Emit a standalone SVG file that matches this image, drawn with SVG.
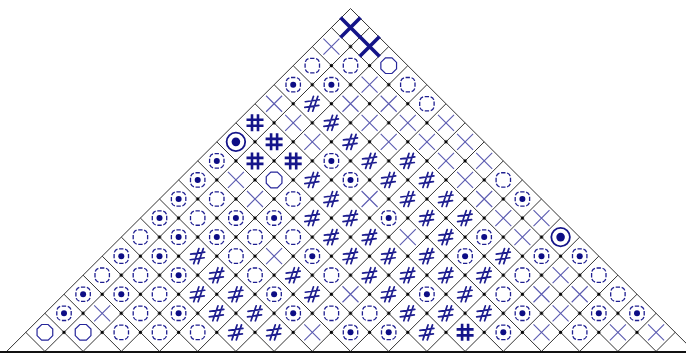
<svg xmlns="http://www.w3.org/2000/svg" xmlns:xlink="http://www.w3.org/1999/xlink" width="686" height="355" viewBox="0 0 686 355">
<style>
.g{stroke:#333;stroke-width:1;fill:none}
.tx{stroke:#5a5ab0;stroke-width:1.1;fill:none}
.bx{stroke:#141488;stroke-width:3.6;fill:none}
.dc{stroke:#1e1e90;stroke-width:1.3;fill:none;stroke-dasharray:4.3 1.7}
.oc{stroke:#26269a;stroke-width:1.2;fill:none}
.dot{fill:#0d0d85}
.h{stroke:#1e1e90;stroke-width:1.7;fill:none;stroke-linecap:round}
.bh{stroke:#15158a;stroke-width:2.6;fill:none}
.bo{stroke:#15158a;stroke-width:1.8;fill:none}
.v{fill:#000}
</style>
<defs>
<path id="X" class="tx" d="M-8,-8L8,8M8,-8L-8,8"/>
<path id="BX" class="bx" d="M-10,-10L10,10M10,-10L-10,10"/>
<rect id="C" class="dc" x="-7.2" y="-7.2" width="14.4" height="14.4" rx="5" pathLength="48"/>
<polygon id="O" class="oc" points="7.85,3.25 3.25,7.85 -3.25,7.85 -7.85,3.25 -7.85,-3.25 -3.25,-7.85 3.25,-7.85 7.85,-3.25"/>
<g id="D"><use xlink:href="#C" href="#C"/><circle class="dot" r="3"/></g>
<g id="BO"><circle class="bo" r="9.3"/><circle class="dot" r="4.3"/></g>
<path id="H" class="h" d="M-7,-2L7,-4M-7.5,3.6L6.5,1.6M1.2,-7.5L-4,7.5M5.6,-7.5L0.4,7.5"/>
<path id="BH" class="bh" d="M-8.5,-3L8.5,-3M-8.5,3L8.5,3M-3,-8.5L-3,8.5M3,-8.5L3,8.5"/>
<pattern id="vp" patternUnits="userSpaceOnUse" x="350.5" y="8.5" width="38.2" height="38.1">
<circle class="v" cx="0" cy="0" r="1.6"/><circle class="v" cx="38.2" cy="0" r="1.6"/>
<circle class="v" cx="0" cy="38.1" r="1.6"/><circle class="v" cx="38.2" cy="38.1" r="1.6"/>
<circle class="v" cx="19.1" cy="19.05" r="1.6"/>
</pattern>
</defs>
<rect width="686" height="355" fill="#fff"/>
<g id="grid" class="g">
<path d="M350.5,8.5L6.7,351.4M369.6,27.55L44.9,351.4M388.7,46.6L83.1,351.4M407.8,65.65L121.3,351.4M426.9,84.7L159.5,351.4M446,103.75L197.7,351.4M465.1,122.8L235.9,351.4M484.2,141.85L274.1,351.4M503.3,160.9L312.3,351.4M522.4,179.95L350.5,351.4M541.5,199L388.7,351.4M560.6,218.05L426.9,351.4M579.7,237.1L465.1,351.4M598.8,256.15L503.3,351.4M617.9,275.2L541.5,351.4M637,294.25L579.7,351.4M656.1,313.3L617.9,351.4M675.2,332.35L656.1,351.4"/>
<path d="M350.5,8.5L694.3,351.4M331.4,27.55L656.1,351.4M312.3,46.6L617.9,351.4M293.2,65.65L579.7,351.4M274.1,84.7L541.5,351.4M255,103.75L503.3,351.4M235.9,122.8L465.1,351.4M216.8,141.85L426.9,351.4M197.7,160.9L388.7,351.4M178.6,179.95L350.5,351.4M159.5,199L312.3,351.4M140.4,218.05L274.1,351.4M121.3,237.1L235.9,351.4M102.2,256.15L197.7,351.4M83.1,275.2L159.5,351.4M64,294.25L121.3,351.4M44.9,313.3L83.1,351.4M25.8,332.35L44.9,351.4"/>
</g>
<polygon id="vertices" points="350.5,15 17,347 684,347" fill="url(#vp)"/>
<rect id="base" x="0" y="351" width="686" height="2" fill="#111"/>
<g id="marks">
<g id="r0"><use href="#BX" x="350.5" y="27.55"/></g>
<g id="r1"><use href="#X" x="331.4" y="46.6"/><use href="#BX" x="369.6" y="46.6"/></g>
<g id="r2"><use href="#C" x="312.3" y="65.65"/><use href="#C" x="350.5" y="65.65"/><use href="#O" x="388.7" y="65.65"/></g>
<g id="r3"><use href="#D" x="293.2" y="84.7"/><use href="#D" x="331.4" y="84.7"/><use href="#X" x="369.6" y="84.7"/><use href="#C" x="407.8" y="84.7"/></g>
<g id="r4"><use href="#X" x="274.1" y="103.75"/><use href="#H" x="312.3" y="103.75"/><use href="#X" x="350.5" y="103.75"/><use href="#X" x="388.7" y="103.75"/><use href="#C" x="426.9" y="103.75"/></g>
<g id="r5"><use href="#BH" x="255" y="122.8"/><use href="#X" x="293.2" y="122.8"/><use href="#H" x="331.4" y="122.8"/><use href="#X" x="369.6" y="122.8"/><use href="#X" x="407.8" y="122.8"/><use href="#X" x="446" y="122.8"/></g>
<g id="r6"><use href="#BO" x="235.9" y="141.85"/><use href="#BH" x="274.1" y="141.85"/><use href="#X" x="312.3" y="141.85"/><use href="#H" x="350.5" y="141.85"/><use href="#X" x="388.7" y="141.85"/><use href="#X" x="426.9" y="141.85"/><use href="#X" x="465.1" y="141.85"/></g>
<g id="r7"><use href="#D" x="216.8" y="160.9"/><use href="#BH" x="255" y="160.9"/><use href="#BH" x="293.2" y="160.9"/><use href="#D" x="331.4" y="160.9"/><use href="#H" x="369.6" y="160.9"/><use href="#H" x="407.8" y="160.9"/><use href="#X" x="446" y="160.9"/><use href="#X" x="484.2" y="160.9"/></g>
<g id="r8"><use href="#D" x="197.7" y="179.95"/><use href="#X" x="235.9" y="179.95"/><use href="#O" x="274.1" y="179.95"/><use href="#H" x="312.3" y="179.95"/><use href="#D" x="350.5" y="179.95"/><use href="#H" x="388.7" y="179.95"/><use href="#H" x="426.9" y="179.95"/><use href="#X" x="465.1" y="179.95"/><use href="#C" x="503.3" y="179.95"/></g>
<g id="r9"><use href="#D" x="178.6" y="199"/><use href="#C" x="216.8" y="199"/><use href="#X" x="255" y="199"/><use href="#C" x="293.2" y="199"/><use href="#H" x="331.4" y="199"/><use href="#X" x="369.6" y="199"/><use href="#H" x="407.8" y="199"/><use href="#H" x="446" y="199"/><use href="#X" x="484.2" y="199"/><use href="#D" x="522.4" y="199"/></g>
<g id="r10"><use href="#D" x="159.5" y="218.05"/><use href="#C" x="197.7" y="218.05"/><use href="#D" x="235.9" y="218.05"/><use href="#D" x="274.1" y="218.05"/><use href="#H" x="312.3" y="218.05"/><use href="#H" x="350.5" y="218.05"/><use href="#D" x="388.7" y="218.05"/><use href="#H" x="426.9" y="218.05"/><use href="#H" x="465.1" y="218.05"/><use href="#X" x="503.3" y="218.05"/><use href="#X" x="541.5" y="218.05"/></g>
<g id="r11"><use href="#C" x="140.4" y="237.1"/><use href="#D" x="178.6" y="237.1"/><use href="#D" x="216.8" y="237.1"/><use href="#C" x="255" y="237.1"/><use href="#C" x="293.2" y="237.1"/><use href="#H" x="331.4" y="237.1"/><use href="#H" x="369.6" y="237.1"/><use href="#X" x="407.8" y="237.1"/><use href="#H" x="446" y="237.1"/><use href="#D" x="484.2" y="237.1"/><use href="#X" x="522.4" y="237.1"/><use href="#BO" x="560.6" y="237.1"/></g>
<g id="r12"><use href="#D" x="121.3" y="256.15"/><use href="#D" x="159.5" y="256.15"/><use href="#H" x="197.7" y="256.15"/><use href="#C" x="235.9" y="256.15"/><use href="#X" x="274.1" y="256.15"/><use href="#D" x="312.3" y="256.15"/><use href="#H" x="350.5" y="256.15"/><use href="#H" x="388.7" y="256.15"/><use href="#H" x="426.9" y="256.15"/><use href="#D" x="465.1" y="256.15"/><use href="#H" x="503.3" y="256.15"/><use href="#D" x="541.5" y="256.15"/><use href="#D" x="579.7" y="256.15"/></g>
<g id="r13"><use href="#C" x="102.2" y="275.2"/><use href="#C" x="140.4" y="275.2"/><use href="#D" x="178.6" y="275.2"/><use href="#H" x="216.8" y="275.2"/><use href="#C" x="255" y="275.2"/><use href="#H" x="293.2" y="275.2"/><use href="#C" x="331.4" y="275.2"/><use href="#H" x="369.6" y="275.2"/><use href="#H" x="407.8" y="275.2"/><use href="#H" x="446" y="275.2"/><use href="#H" x="484.2" y="275.2"/><use href="#C" x="522.4" y="275.2"/><use href="#X" x="560.6" y="275.2"/><use href="#C" x="598.8" y="275.2"/></g>
<g id="r14"><use href="#D" x="83.1" y="294.25"/><use href="#D" x="121.3" y="294.25"/><use href="#C" x="159.5" y="294.25"/><use href="#H" x="197.7" y="294.25"/><use href="#H" x="235.9" y="294.25"/><use href="#D" x="274.1" y="294.25"/><use href="#H" x="312.3" y="294.25"/><use href="#X" x="350.5" y="294.25"/><use href="#H" x="388.7" y="294.25"/><use href="#D" x="426.9" y="294.25"/><use href="#H" x="465.1" y="294.25"/><use href="#C" x="503.3" y="294.25"/><use href="#X" x="541.5" y="294.25"/><use href="#X" x="579.7" y="294.25"/><use href="#C" x="617.9" y="294.25"/></g>
<g id="r15"><use href="#D" x="64" y="313.3"/><use href="#X" x="102.2" y="313.3"/><use href="#C" x="140.4" y="313.3"/><use href="#D" x="178.6" y="313.3"/><use href="#H" x="216.8" y="313.3"/><use href="#H" x="255" y="313.3"/><use href="#D" x="293.2" y="313.3"/><use href="#C" x="331.4" y="313.3"/><use href="#C" x="369.6" y="313.3"/><use href="#H" x="407.8" y="313.3"/><use href="#H" x="446" y="313.3"/><use href="#H" x="484.2" y="313.3"/><use href="#D" x="522.4" y="313.3"/><use href="#X" x="560.6" y="313.3"/><use href="#D" x="598.8" y="313.3"/><use href="#D" x="637" y="313.3"/></g>
<g id="r16"><use href="#O" x="44.9" y="332.35"/><use href="#O" x="83.1" y="332.35"/><use href="#C" x="121.3" y="332.35"/><use href="#C" x="159.5" y="332.35"/><use href="#C" x="197.7" y="332.35"/><use href="#H" x="235.9" y="332.35"/><use href="#H" x="274.1" y="332.35"/><use href="#X" x="312.3" y="332.35"/><use href="#D" x="350.5" y="332.35"/><use href="#D" x="388.7" y="332.35"/><use href="#H" x="426.9" y="332.35"/><use href="#BH" x="465.1" y="332.35"/><use href="#D" x="503.3" y="332.35"/><use href="#X" x="541.5" y="332.35"/><use href="#C" x="579.7" y="332.35"/><use href="#X" x="617.9" y="332.35"/><use href="#X" x="656.1" y="332.35"/></g>
</g>
</svg>
